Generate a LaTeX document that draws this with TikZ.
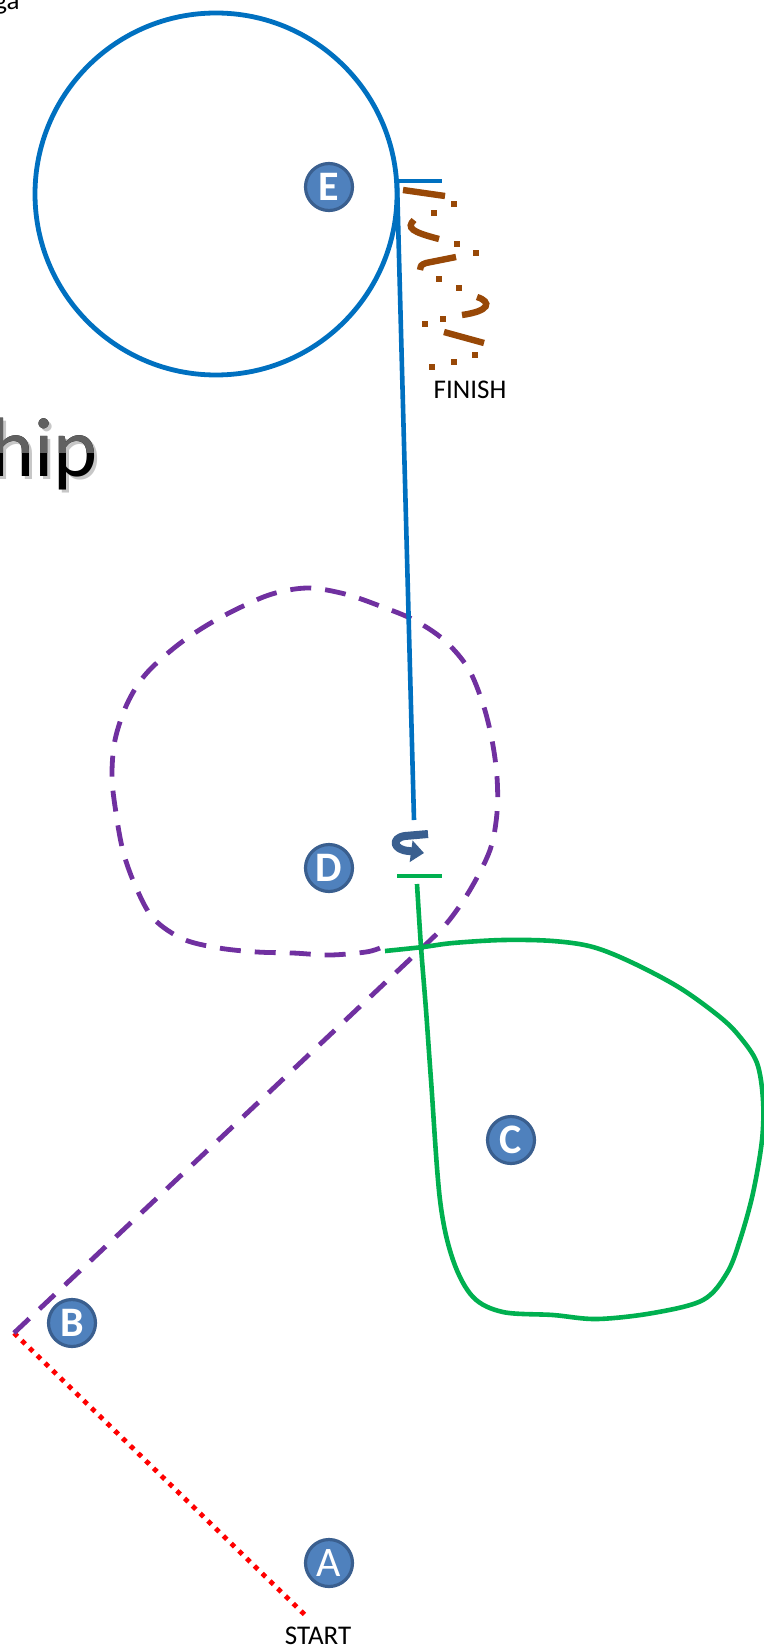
\documentclass[tikz,border=0pt]{standalone}
\usepackage{fontspec}
\setmainfont{Carlito}
\usetikzlibrary{calc,arrows.meta}
\definecolor{bluelink}{HTML}{0070C0}
\definecolor{greenlink}{HTML}{00B050}
\definecolor{purplelink}{HTML}{7030A0}
\definecolor{redlink}{HTML}{FF0000}
\definecolor{brownlink}{HTML}{984807}
\definecolor{badgefill}{HTML}{4F81BD}
\definecolor{badgeline}{HTML}{3A5F8F}

\begin{document}
\begin{tikzpicture}[x=0.5pt,y=-0.5pt,
  badge/.style={circle,fill=badgefill,draw=badgeline,line width=1.6pt,minimum size=23.5pt,inner sep=0pt,text=white,font=\fontsize{21}{21}\selectfont\bfseries},
  leg/.style={line width=2.3pt},
  hiptext/.style={anchor=base east,inner sep=0pt,font=\fontsize{42}{42}\selectfont},
  small/.style={anchor=base,inner sep=0pt,font=\fontsize{13.5}{13.5}\selectfont}]
\useasboundingbox (0,0) rectangle (764,1647);
\coordinate (turn) at (14,1333);
\coordinate (start) at (305,1615);
\coordinate (cross) at (423,947);
\coordinate (etop) at (397,181);
\coordinate (ebot) at (414,820);
\coordinate (gtop) at (417,884);
\coordinate (hipbase) at (98,476);
% title remnants
\node[small,anchor=base east] (ga) at (20,10) {ga};
\node[hiptext,text=black!22] (hipshadow) at ($(hipbase)+(3,3)$) {hip};
\node[hiptext] (hip) at (hipbase) {hip};
\begin{scope}
\clip (0,400) rectangle (130,452);
\node[hiptext,text=black!62] (hiptop) at (hipbase) {hip};
\end{scope}
% legs
\draw[redlink,line width=2.4pt,dash pattern=on 2.4pt off 3pt] (turn) -- (start);
\draw[purplelink,line width=2.4pt,dash pattern=on 10.5pt off 7pt] (turn) -- plot[smooth,tension=0.55] coordinates {(cross) (447,923) (470,890) (490,850) (497,813) (497,777) (492,740) (483,704) (468,668) (444,640) (414,620) (380,606) (345,594) (308,588) (272,594) (237,609) (204,627) (174,648) (145,675) (127,704) (115,740) (112,777) (116,813) (123,851) (135,885) (153,918) (183,939) (219,948) (257,952) (293,953) (330,955) (366,952) (380,948)};
\draw[greenlink,leg] (397,876) -- (442,876);
\draw[greenlink,leg] plot[smooth,tension=0.55] coordinates {(gtop) (421,947) (426,1010) (431,1080) (440,1200) (453,1260) (473,1297) (503,1312) (553,1315) (597,1319) (653,1313) (703,1300) (727,1273) (740,1240) (753,1193) (762,1140) (763,1100) (757,1063) (740,1037) (720,1017) (680,988) (633,963) (593,947) (553,941) (503,940) (453,943) (423,947) (385,951)};
\draw[bluelink,line width=2.4pt] (216,194) circle (181);
\draw[bluelink,leg] (etop) -- ++(45,0);
\draw[bluelink,leg] (etop) -- (ebot);
\draw[badgeline,line width=4pt,line join=round,-{Triangle[length=6.5pt,width=10.5pt]}] (428,834) -- (405,836) .. controls (391,838) and (393,850) .. (409,851) -- (424,853);
% finish squiggle
\begin{scope}[brownlink,line width=3.2pt]
\draw (403,190) -- (445,196);
\draw (414,220) .. controls (406,228) and (412,232) .. (439,239);
\draw (456,257) -- (426,263) .. controls (421,265) .. (420,270);
\draw (477,297) .. controls (492,302) and (490,311) .. (462,315);
\draw (444,332) -- (484,343);
\foreach \x/\y in {454/204,434/213,457/244,476/253,439/279,459/288,443/319,425/324,475/355,454/362,432/367}
  \fill (\x-3,\y-3) rectangle ++(6,6);
\end{scope}
\node[small] (finish) at (470,398) {FINISH};
\node[small] (startlabel) at (318,1644) {START};
\foreach \n/\x/\y in {B/72/1323,C/511/1140,D/329/868,E/329/187}
  \node[badge] (\n) at (\x,\y) {\n};
\node[badge,font=\fontsize{21}{21}\selectfont] (A) at (329,1563) {A};
\end{tikzpicture}
\end{document}
